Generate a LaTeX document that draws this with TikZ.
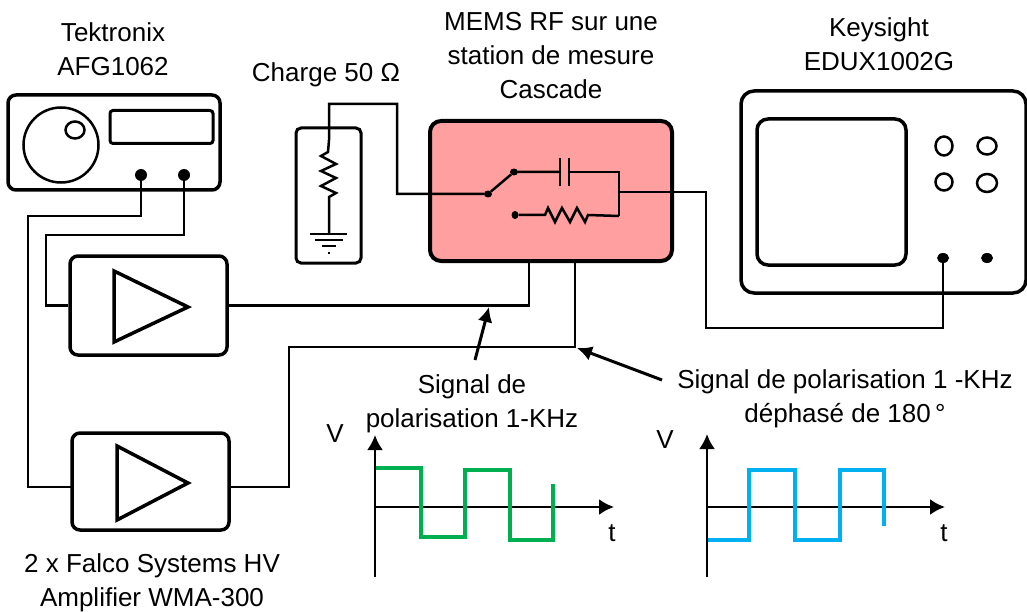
\documentclass[tikz,border=0pt]{standalone}
\usepackage{fontspec}
\setmainfont{Liberation Sans}
\usetikzlibrary{arrows.meta,calc,positioning,shapes.geometric}
\definecolor{memsred}{HTML}{FF9F9F}
\definecolor{sigA}{HTML}{00B050}
\definecolor{sigB}{HTML}{00B0F0}
\tikzset{
  lbl/.style={align=center,inner sep=0pt,font=\fontsize{26}{34}\selectfont},
  case/.style={draw,line width=3.5pt,rounded corners=8pt,inner sep=0pt},
  wire/.style={line width=2.5pt},
  plug/.style={circle,fill=black,inner sep=0pt,minimum size=12pt},
  knob/.style={ellipse,draw,line width=2.5pt,inner sep=0pt},
  axis/.style={line width=2.5pt,-{Latex[length=15pt,width=16pt]}},
  callout/.style={line width=3pt,-{Latex[length=15pt,width=15pt]}}
}

\begin{document}
\begin{tikzpicture}[x=1pt,y=-1pt]
\useasboundingbox (0,0) rectangle (1027,612);
% generator
\node[case,minimum width=212pt,minimum height=95pt] (gen) at (114,142.5) {};
\node[knob,minimum width=75pt,minimum height=75pt] (dial) at (61,145) {};
\node[knob,minimum width=19pt,minimum height=17pt] (dot) at (75,130) {};
\node[case,rounded corners=3pt,line width=3pt,minimum width=103pt,minimum height=33pt] (disp) at (161.5,127) {};
\node[plug] (genA) at (141,175) {};
\node[plug] (genB) at (184,175) {};
% amplifiers
\node[case,minimum width=157pt,minimum height=99pt] (ampA) at (148.5,305.5) {};
\node[case,minimum width=157pt,minimum height=97pt] (ampB) at (150.5,481.5) {};
\draw[line width=3.5pt] (114,271) -- (114,342) -- (188,307) -- cycle;
\draw[line width=3.5pt] (117,446) -- (117,520) -- (188,483) -- cycle;
% load and device
\node[case,line width=3pt,rounded corners=5pt,minimum width=65pt,minimum height=135pt] (load) at (328.5,195.5) {};
\node[case,line width=4pt,rounded corners=11pt,fill=memsred,minimum width=242pt,minimum height=140pt] (mems) at (551,191) {};
% scope
\node[case,rounded corners=13pt,minimum width=285pt,minimum height=202pt] (scope) at (883.5,192) {};
\node[case,rounded corners=11pt,minimum width=149pt,minimum height=146pt] (screen) at (831.5,192) {};
\node[knob,minimum width=17pt,minimum height=19pt] (kA) at (944,146) {};
\node[knob,minimum width=19pt,minimum height=17pt] (kB) at (987,146) {};
\node[knob,minimum width=17pt,minimum height=17pt] (kC) at (944,182) {};
\node[knob,minimum width=20pt,minimum height=18pt] (kD) at (987,183) {};
\node[plug,ellipse,minimum width=12pt,minimum height=10pt] (scA) at (943,258) {};
\node[plug,ellipse,minimum width=12pt,minimum height=10pt] (scB) at (987,258) {};
% switch and parts inside device
\node[plug,ellipse,minimum width=8pt,minimum height=7pt] (swC) at (488,194) {};
\node[plug,ellipse,minimum width=8pt,minimum height=7pt] (swA) at (514,172) {};
\node[plug,ellipse,minimum width=7pt,minimum height=8pt] (swB) at (515,215) {};
\coordinate (capL) at (560,172);
\coordinate (capR) at (569,172);
\coordinate (busT) at (619,172);
\coordinate (busM) at (619,192);
\coordinate (busB) at (619,216);
\draw[wire] (swC) -- (swA) -- (capL);
\draw[wire] ($(capL)+(0,-14)$) -- ($(capL)+(0,14)$);
\draw[wire] ($(capR)+(0,-14)$) -- ($(capR)+(0,14)$);
\draw[wire] (capR) -- (busT) -- (busB);
\draw[wire] (swB) -- (545,215) -- (548,208) -- (555,222) -- (562,208) -- (570,222) -- (577,208) -- (585,222) -- (588,215) -- (busB);
% wiring
\coordinate (jA) at (28,216);
\coordinate (jB) at (46,235);
\coordinate (inB) at (72,487);
\coordinate (outB) at (229,487);
\coordinate (jC) at (289,347);
\coordinate (memsA) at (529,261);
\coordinate (memsB) at (575,261);
\coordinate (jD) at (397,104);
\coordinate (resT) at (329,140);
\coordinate (gnd) at (329,234);
\coordinate (jE) at (706,328);
\draw[wire] (genA) |- (jA) |- (inB);
\draw[wire] (genB) |- (jB) |- (ampA.west);
\draw[wire] (ampA.east) -| (memsA);
\draw[wire] (outB) -| (jC) -| (memsB);
\draw[wire] (swC) -| (jD) -| (resT) -- (328,152) -- (321,156) -- (336,164) -- (321,171) -- (336,178) -- (321,186) -- (336,193) -- (329,197) -- (gnd);
\draw[wire] (busM) -| (jE) -| (scA);
% ground
\draw[wire] ($(gnd)+(-19,0)$) -- ($(gnd)+(18,0)$);
\draw[wire] ($(gnd)+(-14,6)$) -- ($(gnd)+(14,6)$);
\draw[wire] ($(gnd)+(-7,12)$) -- ($(gnd)+(7,12)$);
\draw[wire] ($(gnd)+(-1,19)$) -- ($(gnd)+(1,19)$);
% callouts
\coordinate (fromA) at (475,360);
\coordinate (tipA) at (489,307);
\coordinate (fromB) at (662,380);
\coordinate (tipB) at (577,348);
\draw[callout] (fromA) -- (tipA);
\draw[callout] (fromB) -- (tipB);
% left plot
\coordinate (oA) at (375,507);
\coordinate (vA) at (375,435);
\coordinate (bA) at (375,577);
\coordinate (tA) at (614,507);
\draw[axis] (bA) -- (vA);
\draw[axis] (oA) -- (tA);
\draw[sigA,line width=4pt] (376,468) -- (421,468) -- (421,537) -- (465,537) -- (465,470) -- (510,470) -- (510,540) -- (553,540) -- (553,484);
% right plot
\coordinate (oB) at (707,507);
\coordinate (vB) at (707,434);
\coordinate (bB) at (707,577);
\coordinate (tB) at (945,507);
\draw[axis] (bB) -- (vB);
\draw[axis] (oB) -- (tB);
\draw[sigB,line width=4pt] (708,540) -- (749,540) -- (749,470) -- (795,470) -- (795,540) -- (840,540) -- (840,470) -- (884,470) -- (884,526);
% labels
\node[lbl] (genT) at (113,49) {Tektronix\\AFG1062};
\node[lbl] (loadT) at (326,75) {Charge 50 Ω};
\node[lbl] (memsT) at (551,56) {MEMS RF sur une\\station de mesure\\Cascade};
\node[lbl] (scopeT) at (879,44) {Keysight\\EDUX1002G};
\node[lbl] (polA) at (472,404) {Signal de\\polarisation 1-KHz};
\node[lbl] (polB) at (845,399) {Signal de polarisation 1 -KHz\\déphasé de 180\,°};
\node[lbl] (ampT) at (152,583) {2 x Falco Systems HV\\Amplifier WMA-300};
\node[lbl] (vLA) at (335,434) {V};
\node[lbl] (vLB) at (665,440) {V};
\node[lbl] (tLA) at (612,533) {t};
\node[lbl] (tLB) at (944,533) {t};
\end{tikzpicture}
\end{document}
